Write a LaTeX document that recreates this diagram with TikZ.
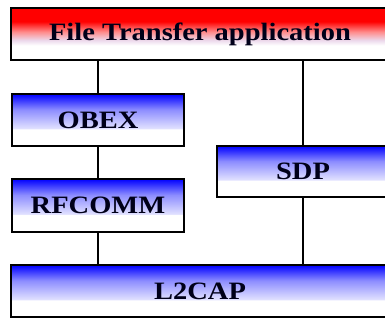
\documentclass[tikz,border=0pt]{standalone}
\usepackage{fontspec}
\setmainfont{Liberation Serif}
\pgfdeclareverticalshading{bluefade}{100bp}{color(0bp)=(white); color(25bp)=(white); color(41bp)=(white); color(42bp)=(blue!12); color(60bp)=(blue!45); color(75bp)=(blue); color(100bp)=(blue)}
\pgfdeclareverticalshading{redfade}{100bp}{color(0bp)=(white); color(25bp)=(white); color(39bp)=(white); color(44bp)=(violet!15); color(52bp)=(red!45); color(62bp)=(red); color(75bp)=(red); color(100bp)=(red)}
\tikzset{
  layer/.style={draw=black, line width=2.8pt, inner sep=0pt, minimum height=52pt,
    shading=bluefade, font=\bfseries\fontsize{25}{27}\selectfont, text=black!90!blue},
  applayer/.style={layer, shading=redfade},
  link/.style={line width=2.8pt, draw=black}
}
\newcommand{\wide}[1]{\scalebox{1.14}[1]{#1}}
\begin{document}
\begin{tikzpicture}[x=1pt,y=1pt]
\useasboundingbox (0,0) rectangle (385,320);
\begin{scope}
\clip (0,0) rectangle (385,320);
\node[applayer, minimum width=378pt] (app) at (200,286) {\raisebox{-2pt}{\wide{File Transfer application}}};
\node[layer, minimum width=172pt] (obex) at (98,200) {\wide{OBEX}};
\node[layer, minimum width=172pt, minimum height=53pt] (rfcomm) at (98,114.5) {\wide{RFCOMM}};
\node[layer, minimum width=172pt, minimum height=51pt] (sdp) at (303,148.5) {\wide{SDP}};
\node[layer, minimum width=378pt] (l2cap) at (200,29) {\wide{L2CAP}};
\draw[link] (obex.north) -- (obex.north |- app.south);
\draw[link] (rfcomm.north) -- (obex.south);
\draw[link] (rfcomm.south) -- (rfcomm.south |- l2cap.north);
\draw[link] (sdp.north) -- (sdp.north |- app.south);
\draw[link] (sdp.south) -- (sdp.south |- l2cap.north);
\end{scope}
\end{tikzpicture}
\end{document}
